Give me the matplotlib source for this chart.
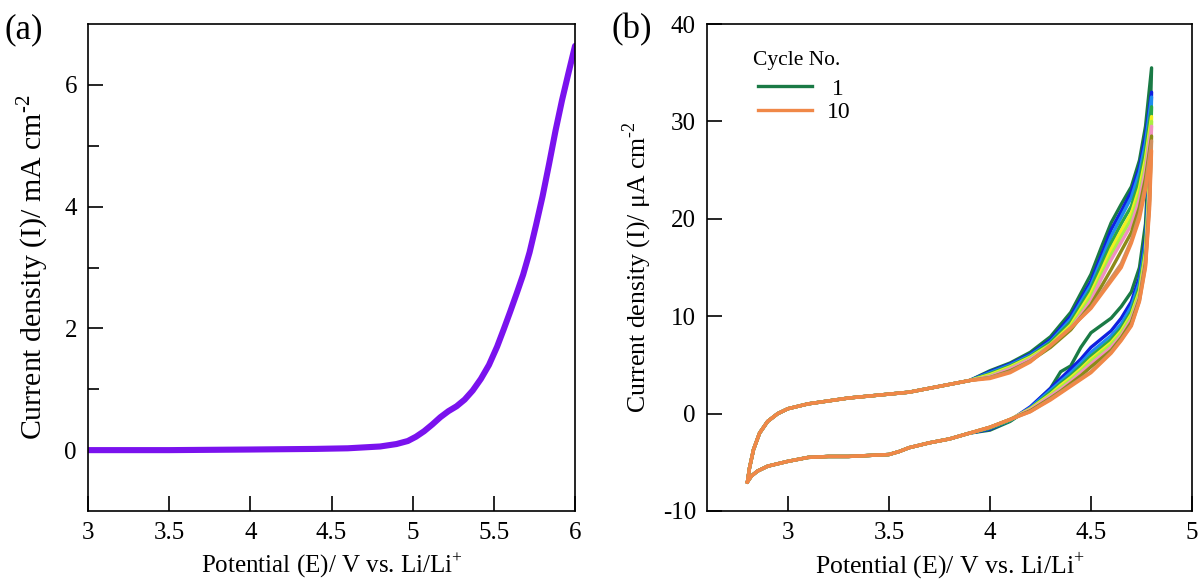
import matplotlib
matplotlib.use('Agg')
import matplotlib.pyplot as plt
import numpy as np

plt.rcParams['font.family'] = ['Liberation Serif', 'DejaVu Serif']
plt.rcParams['mathtext.fontset'] = 'custom'
plt.rcParams['mathtext.rm'] = 'Liberation Serif'

# (a) linear sweep
lsv_v = [3.0, 3.5, 4.0, 4.4, 4.6, 4.8, 4.9, 4.97, 5.02, 5.07, 5.12, 5.17, 5.22, 5.27,
         5.32, 5.37, 5.42, 5.47, 5.52, 5.56, 5.6, 5.64, 5.68, 5.72, 5.76, 5.8, 5.84,
         5.88, 5.92, 5.96, 6.0]
lsv_i = [0.0, 0.0, 0.01, 0.02, 0.03, 0.06, 0.1, 0.15, 0.22, 0.31, 0.42, 0.54, 0.64, 0.72,
         0.83, 0.98, 1.17, 1.4, 1.7, 1.98, 2.27, 2.57, 2.88, 3.25, 3.7, 4.17, 4.7,
         5.25, 5.75, 6.2, 6.64]

# (b) cyclic voltammetry, 10 cycles
# low-potential part (all cycles overlap)
low_fwd_v = [2.8, 2.81, 2.83, 2.86, 2.9, 2.95, 3.0, 3.1, 3.2, 3.3, 3.4, 3.5, 3.55, 3.6, 3.7, 3.8, 3.9]
low_fwd_i = [-7.0, -5.6, -3.7, -2.0, -0.8, 0.0, 0.5, 1.0, 1.3, 1.6, 1.8, 2.0, 2.1, 2.2, 2.6, 3.0, 3.4]
low_rev_v = [3.9, 3.8, 3.7, 3.6, 3.55, 3.5, 3.4, 3.3, 3.2, 3.1, 3.0, 2.9, 2.85, 2.82, 2.8]
low_rev_i = [-2.0, -2.6, -3.0, -3.5, -3.9, -4.2, -4.3, -4.4, -4.4, -4.5, -4.9, -5.4, -5.9, -6.4, -7.0]

# high-potential part, per cycle
high_fwd_v = [4.0, 4.1, 4.2, 4.3, 4.4, 4.5, 4.55, 4.6, 4.65, 4.7, 4.74, 4.77, 4.8]
high_rev_v = [4.8, 4.79, 4.77, 4.74, 4.7, 4.65, 4.6, 4.5, 4.45, 4.4, 4.35, 4.3, 4.2, 4.1, 4.0]

fwd_c1 = [4.4, 5.2, 6.3, 7.9, 10.4, 14.3, 17.0, 19.6, 21.5, 23.3, 26.0, 29.5, 35.5]
rev_c1 = [35.5, 28.0, 19.5, 15.0, 12.5, 11.0, 9.8, 8.3, 6.8, 4.9, 4.3, 2.6, 0.6, -0.8, -1.7]
fwd_c2 = [4.3, 5.1, 6.1, 7.6, 10.0, 13.6, 16.2, 18.9, 20.8, 22.8, 25.3, 28.5, 33.0]
rev_c2 = [33.0, 26.0, 18.0, 14.0, 11.5, 9.8, 8.5, 6.8, 5.6, 4.6, 3.6, 2.6, 0.7, -0.7, -1.6]
fwd_c3 = [4.2, 5.0, 6.0, 7.4, 9.7, 13.2, 15.7, 18.2, 20.2, 22.2, 24.8, 27.8, 32.5]
rev_c3 = [32.5, 25.0, 17.5, 13.5, 11.0, 9.2, 8.0, 6.3, 5.2, 4.2, 3.3, 2.4, 0.6, -0.7, -1.5]
fwd_c4 = [4.1, 4.9, 5.9, 7.3, 9.4, 12.8, 15.2, 17.5, 19.5, 21.3, 24.0, 27.0, 31.5]
rev_c4 = [31.5, 24.5, 17.0, 13.0, 10.5, 8.8, 7.6, 5.9, 4.9, 3.9, 3.1, 2.2, 0.5, -0.7, -1.5]
fwd_c5 = [4.0, 4.8, 5.8, 7.1, 9.1, 12.4, 14.6, 16.9, 18.8, 20.6, 23.2, 26.2, 30.5]
rev_c5 = [30.5, 24.0, 16.5, 12.6, 10.2, 8.5, 7.3, 5.6, 4.6, 3.7, 2.9, 2.0, 0.5, -0.6, -1.4]
fwd_c6 = [3.9, 4.7, 5.7, 7.0, 8.9, 12.0, 14.2, 16.3, 18.2, 20.0, 22.6, 25.6, 30.0]
rev_c6 = [30.0, 23.5, 16.2, 12.3, 10.0, 8.3, 7.1, 5.4, 4.4, 3.5, 2.7, 1.9, 0.4, -0.6, -1.4]
fwd_c7 = [3.8, 4.6, 5.6, 6.9, 8.7, 11.6, 13.8, 15.8, 17.6, 19.4, 22.0, 25.0, 29.5]
rev_c7 = [29.5, 23.0, 15.8, 12.0, 9.7, 8.0, 6.8, 5.1, 4.2, 3.3, 2.5, 1.8, 0.4, -0.6, -1.4]
fwd_c8 = [3.7, 4.4, 5.4, 6.8, 8.6, 11.2, 13.0, 14.8, 16.7, 18.6, 21.2, 24.2, 28.5]
rev_c8 = [28.5, 22.0, 15.5, 11.8, 9.4, 7.8, 6.5, 4.8, 3.9, 3.1, 2.3, 1.6, 0.3, -0.6, -1.4]
fwd_c9 = [3.7, 4.3, 5.4, 7.0, 8.8, 10.9, 12.4, 13.9, 15.4, 17.8, 20.5, 23.5, 28.0]
rev_c9 = [28.0, 21.5, 15.2, 11.6, 9.1, 7.6, 6.3, 4.3, 3.6, 2.9, 2.2, 1.5, 0.2, -0.6, -1.4]
fwd_c10 = [3.6, 4.2, 5.3, 7.0, 8.8, 10.8, 12.2, 13.6, 15.0, 17.5, 20.0, 23.0, 27.0]
rev_c10 = [27.0, 21.0, 15.0, 11.5, 9.0, 7.5, 6.2, 4.2, 3.5, 2.8, 2.1, 1.4, 0.2, -0.6, -1.4]

fwd_all = [fwd_c1, fwd_c2, fwd_c3, fwd_c4, fwd_c5, fwd_c6, fwd_c7, fwd_c8, fwd_c9, fwd_c10]
rev_all = [rev_c1, rev_c2, rev_c3, rev_c4, rev_c5, rev_c6, rev_c7, rev_c8, rev_c9, rev_c10]
cycle_labels = [' 1', '2', '3', '4', '5', '6', '7', '8', '9', '10']
cycle_colors = ['#1a7a45', '#1020e0', '#1e8cf0', '#2aa84a', '#f2f020',
                '#a8f040', '#f090c0', '#8c8a18', '#d09060', '#f08848']

fig = plt.figure(figsize=(12.01, 5.83), dpi=100)
ax1 = fig.add_axes([0.0733, 0.1235, 0.4055, 0.8353])
ax2 = fig.add_axes([0.5887, 0.1235, 0.4038, 0.8353])

ax1.plot(lsv_v, lsv_i, color='#7a12ee', lw=4.4, solid_capstyle='round')
ax1.set_xlim(3, 6)
ax1.set_ylim(-1, 7)
ax1.set_xticks([3, 3.5, 4, 4.5, 5, 5.5, 6])
ax1.set_xticklabels(['3', '3.5', '4', '4.5', '5', '5.5', '6'])
ax1.set_yticks([0, 2, 4, 6])
ax1.set_yticks([1, 3, 5], minor=True)
ax1.set_ylabel('Current density (I)/ mA cm$^{\\text{-}2}$', fontsize=21.5, labelpad=10)
ax1.set_xlabel('Potential (E)/ V vs. Li/Li$^{+}$', fontsize=18, labelpad=5)

lines = []
for k in range(10):
    v = low_fwd_v + high_fwd_v + high_rev_v + low_rev_v
    i = low_fwd_i + fwd_all[k] + rev_all[k] + low_rev_i
    ln, = ax2.plot(v, i, color=cycle_colors[k], lw=2.4, label=cycle_labels[k])
    lines.append(ln)
ax2.set_xlim(2.6, 5)
ax2.set_ylim(-10, 40)
ax2.set_xticks([3, 3.5, 4, 4.5, 5])
ax2.set_xticklabels(['3', '3.5', '4', '4.5', '5'])
ax2.set_yticks([-10, 0, 10, 20, 30, 40])
ax2.set_yticklabels(['-10', '0', '10', '20', '30', '40'])
ax2.set_ylabel('Current density (I)/ \u03bcA cm$^{\\text{-}2}$', fontsize=18.5, labelpad=6)
ax2.set_xlabel('Potential (E)/ V vs. Li/Li$^{+}$', fontsize=18.5, labelpad=5)

ax2.text(0.095, 0.926, 'Cycle No.', transform=ax2.transAxes, fontsize=15.5,
         ha='left', va='center')
leg = ax2.legend([lines[0], lines[9]], [cycle_labels[0], cycle_labels[9]],
                 loc='upper left', bbox_to_anchor=(0.105, 0.889), frameon=False, fontsize=17,
                 handlelength=2.3, labelspacing=0.1, handletextpad=0.6,
                 borderpad=0.0, borderaxespad=0.0)

for ax in (ax1, ax2):
    ax.tick_params(which='both', direction='in', labelsize=18, width=1.2, pad=8)
    ax.tick_params(which='major', length=11)
    ax.tick_params(which='minor', length=8)
    ax.tick_params(top=False, right=False)
    for s in ax.spines.values():
        s.set_linewidth(1.2)

fig.text(0.004, 0.935, '(a)', fontsize=25)
fig.text(0.509, 0.935, '(b)', fontsize=25)

fig.savefig('out.png', dpi=100)
